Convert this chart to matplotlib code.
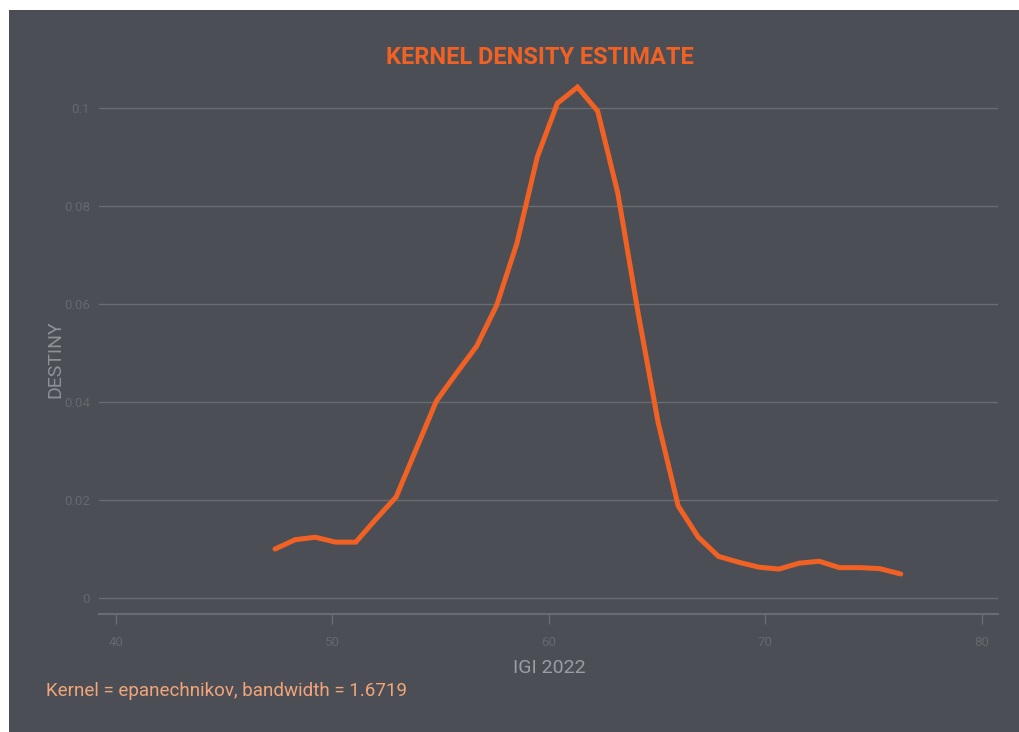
import numpy as np
import matplotlib.pyplot as plt
from matplotlib.patches import Rectangle

# kernel density estimate
igi = [47.35, 48.28, 49.21, 50.15, 51.08, 52.01, 52.94, 53.87, 54.80, 55.73, 56.66,
       57.59, 58.52, 59.46, 60.39, 61.32, 62.25, 63.18, 64.11, 65.04, 65.97, 66.90,
       67.83, 68.76, 69.69, 70.62, 71.55, 72.48, 73.41, 74.34, 75.27, 76.25]
density = [0.0100, 0.0119, 0.0124, 0.0114, 0.0114, 0.0161, 0.0206, 0.0304, 0.0402,
           0.0459, 0.0514, 0.0598, 0.0724, 0.0900, 0.1010, 0.1043, 0.0994, 0.0827,
           0.0584, 0.0359, 0.0188, 0.0124, 0.0085, 0.0073, 0.0063, 0.0059, 0.0071,
           0.0075, 0.0062, 0.0062, 0.0060, 0.0049]
xticks = [40, 50, 60, 70, 80]
yticks = [0, 0.02, 0.04, 0.06, 0.08, 0.1]
ylabels = ['0', '0.02', '0.04', '0.06', '0.08', '0.1']

bg = '#4b4f55'
orange = '#f26124'
grid = '#696d71'
dim = '#65696e'

plt.rcParams['font.family'] = ['Roboto', 'DejaVu Sans']

fig = plt.figure(figsize=(10.2, 7.32), dpi=100, facecolor='white')
fig.patches.append(Rectangle((9 / 1020, 0), 1, 1 - 10 / 732, transform=fig.transFigure,
                             facecolor=bg, edgecolor='none', zorder=-5))

ax = fig.add_axes([99 / 1020, 1 - 614 / 732, 899 / 1020, 545 / 732])
ax.set_zorder(2)
ax.set_facecolor(bg)
ax.plot(igi, density, color=orange, lw=3.6, solid_joinstyle='miter', solid_capstyle='round', zorder=3)

ax.set_xlim(39.22, 80.74)
ax.set_ylim(-0.00327, 0.108)
ax.set_xticks(xticks)
ax.set_yticks(yticks)
ax.set_yticklabels(ylabels)
for s in ['top', 'right', 'left']:
    ax.spines[s].set_visible(False)
ax.spines['bottom'].set_color(grid)
ax.spines['bottom'].set_linewidth(1.5)
ax.grid(axis='y', color=grid, lw=1.0)
ax.tick_params(axis='x', colors=grid, length=7, width=1.0, pad=9, labelsize=9.5, labelcolor=dim)
ax.tick_params(axis='y', length=0, pad=6.5, labelsize=9.5, labelcolor=dim)

fig.text(540 / 1020, 1 - 57 / 732, 'KERNEL DENSITY ESTIMATE', color=orange, fontsize=17,
         fontweight='bold', ha='center', va='center')
fig.text(55 / 1020, 1 - 359 / 732, 'DESTINY', color='#8e9196', fontsize=14,
         rotation=90, ha='center', va='center')
fig.text(549 / 1020, 1 - 668 / 732, 'IGI 2022', color='#9a9da1', fontsize=14,
         ha='center', va='center')
fig.text(46 / 1020, 1 - 691 / 732, 'Kernel = epanechnikov, bandwidth = 1.6719', color='#f2a57a',
         fontsize=13.5, ha='left', va='center')

fig.savefig('out.png', dpi=100, facecolor='white')
